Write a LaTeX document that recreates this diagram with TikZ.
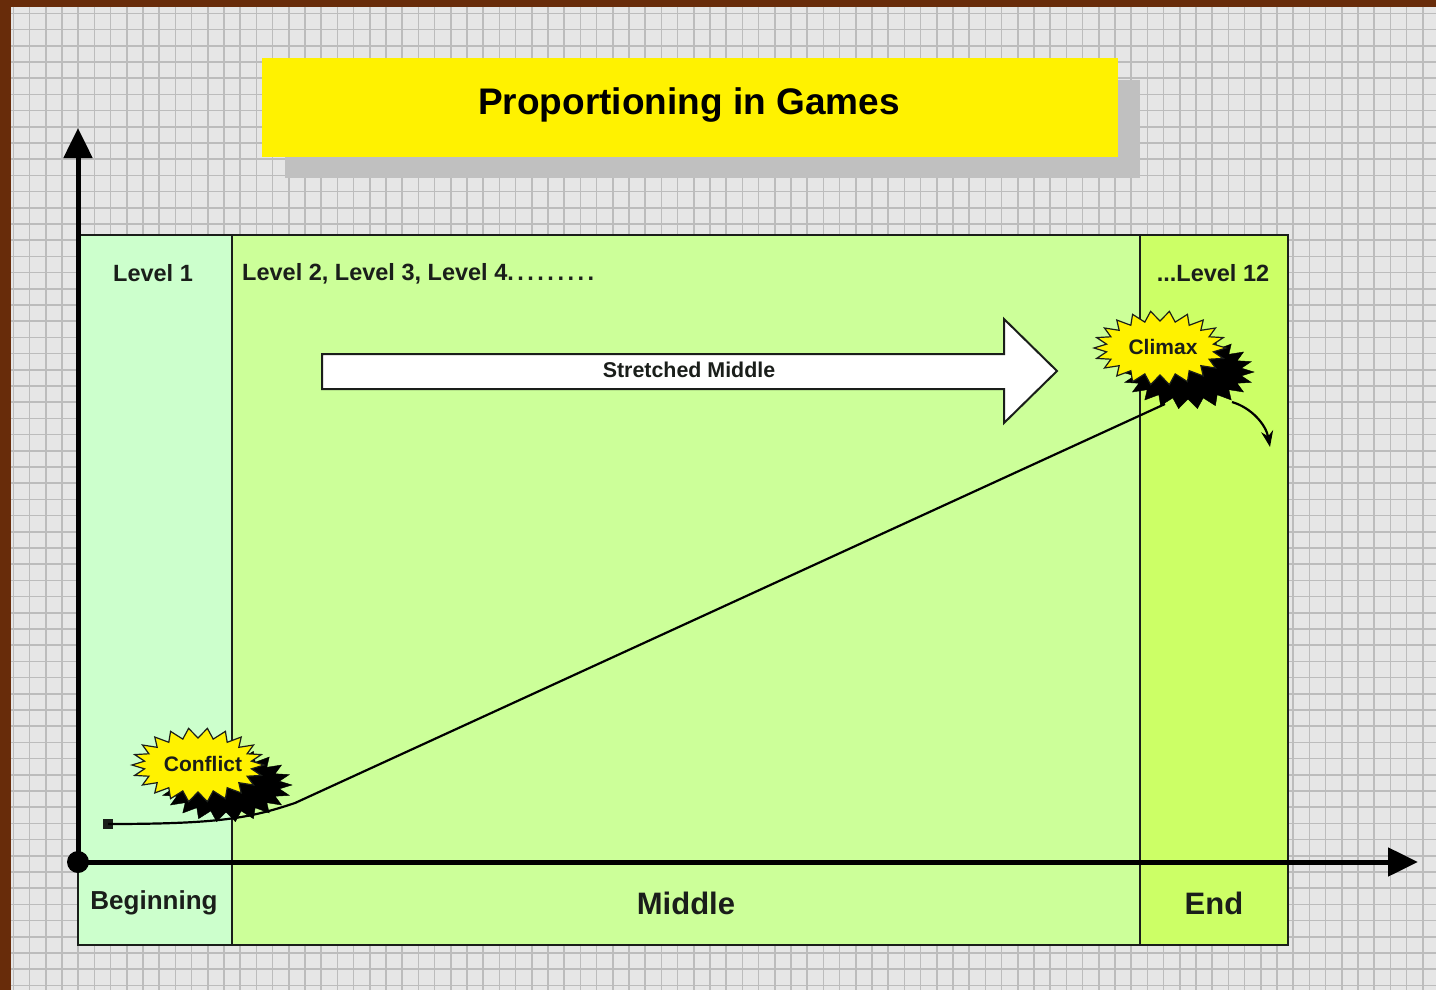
\documentclass[tikz,border=0pt]{standalone}
\usepackage{fontspec}
\setmainfont{Liberation Sans}
\usetikzlibrary{arrows.meta}
\definecolor{brownbd}{RGB}{104,44,10}
\definecolor{bggray}{RGB}{230,230,230}
\definecolor{gridgray}{RGB}{188,188,188}
\definecolor{begc}{RGB}{204,255,204}
\definecolor{midc}{RGB}{204,255,153}
\definecolor{endc}{RGB}{204,255,102}
\definecolor{shadowc}{RGB}{192,192,192}
\definecolor{inkc}{RGB}{26,30,26}
\tikzset{
  region/.style={draw=inkc, line width=2pt},
  lbl/.style={text=inkc, font=\bfseries\fontsize{23.5}{28}\selectfont, inner sep=0pt},
  biglbl/.style={text=inkc, font=\bfseries\fontsize{31}{36}\selectfont, inner sep=0pt},
  axisline/.style={line width=5pt, black, -{Triangle[length=30pt,width=28pt]}},
}
\newcommand{\myburst}[3]{%
  \filldraw[#3] plot[domain=0:44,samples=45]
   ({#1+(60+6*cos(\x*180))*cos(\x*360/44)},{#2+(32+5*cos(\x*180))*sin(\x*360/44)}) -- cycle;}
\newcommand{\sdot}{.\kern3.5pt}
\begin{document}
\begin{tikzpicture}[x=1pt,y=-1pt]
\useasboundingbox (0,0) rectangle (1436,990);
% frame and grid
\fill[brownbd] (0,0) rectangle (1436,990);
\fill[bggray] (11,7) rectangle (1436,990);
\foreach \i in {0,...,88} {
  \draw[gridgray, line width=1.5pt] ({13.4+16.2*\i},7) -- ({13.4+16.2*\i},990);
}
\foreach \j in {0,...,60} {
  \draw[gridgray, line width=1.5pt] (11,{13.4+16.2*\j}) -- (1436,{13.4+16.2*\j});
}
% title
\fill[shadowc] (285,80) rectangle (1140,178);
\fill[yellow] (262,58) rectangle (1118,157);
\node[text=black, font=\bfseries\fontsize{37}{42}\selectfont, inner sep=0pt] (title) at (689,105) {Proportioning in Games};
% regions
\draw[region, fill=begc] (78,235) rectangle (232,945);
\draw[region, fill=midc] (232,235) rectangle (1140,945);
\draw[region, fill=endc] (1140,235) rectangle (1288,945);
% labels
\node[lbl] (l1) at (153,273) {Level 1};
\node[lbl, anchor=west] (l2) at (242,274) {Level 2, Level 3, Level 4\sdot\sdot\sdot\sdot\sdot\sdot\sdot\sdot.};
\node[lbl] (l12) at (1213,273) {...Level 12};
\node[biglbl, font=\bfseries\fontsize{26}{30}\selectfont] (beg) at (154,903) {Beginning};
\node[biglbl] (mid) at (686,903) {Middle};
\node[biglbl] (endl) at (1214,903) {End};
% stretched middle arrow
\filldraw[fill=white, draw=inkc, line width=2pt]
  (322,354) -- (1004,354) -- (1004,319) -- (1057,371) -- (1004,423) -- (1004,389) -- (322,389) -- cycle;
\node[lbl, font=\bfseries\fontsize{21.4}{25}\selectfont] (sm) at (689,370) {Stretched Middle};
% axes
\coordinate (origin) at (78,862);
\coordinate (ytip) at (78,128);
\coordinate (xtip) at (1418,862);
\draw[axisline] (origin) -- (ytip);
\draw[axisline] (origin) -- (xtip);
\fill[black] (origin) circle (11);
% curve
\node[fill=inkc, minimum size=10pt, inner sep=0pt] (start) at (108,824) {};
\coordinate (cbend) at (295,803);
\coordinate (cpeak) at (1165,404);
\draw[black, line width=2.2pt] (start.center) .. controls (220,824) and (250,818) .. (cbend) -- (cpeak);
\draw[black, line width=2.2pt, -{Stealth[length=16pt,width=12pt]}] (1232,402) .. controls (1252,408) and (1266,425) .. (1270,447);
% starbursts
\myburst{226}{785}{black}
\myburst{198}{765}{fill=yellow, draw=inkc, line width=1.2pt}
\node[lbl, font=\bfseries\fontsize{21}{25}\selectfont] (conflict) at (203,764) {Conflict};
\myburst{1188}{372}{black}
\myburst{1160}{348}{fill=yellow, draw=inkc, line width=1.2pt}
\node[lbl, font=\bfseries\fontsize{21}{25}\selectfont] (climax) at (1163,347) {Climax};
\end{tikzpicture}
\end{document}
